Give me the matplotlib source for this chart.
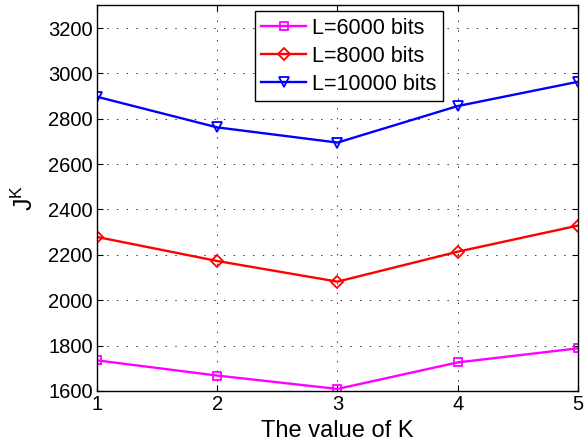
import numpy as np
import matplotlib
matplotlib.use('Agg')
import matplotlib.pyplot as plt

plt.rcParams['font.family'] = ['Liberation Sans', 'DejaVu Sans']

# values of K and the cost for each packet length
k_values = [1, 2, 3, 4, 5]
j_6000 = [1735, 1668, 1609, 1726, 1788]
j_8000 = [2279, 2173, 2082, 2214, 2329]
j_10000 = [2897, 2762, 2695, 2856, 2963]
labels = ['L=6000 bits', 'L=8000 bits', 'L=10000 bits']
y_ticks = [1600, 1800, 2000, 2200, 2400, 2600, 2800, 3000, 3200]

fig = plt.figure(figsize=(5.86, 4.43), dpi=100)
ax = fig.add_axes([0.1655, 0.1174, 0.8208, 0.8706])

ax.plot(k_values, j_6000, color='#ff00ff', marker='s', mfc='none', ms=6, mew=1.3, lw=1.7, label=labels[0])
ax.plot(k_values, j_8000, color='#ff0000', marker='D', mfc='none', ms=6, mew=1.3, lw=1.7, label=labels[1])
ax.plot(k_values, j_10000, color='#0000ff', marker='v', mfc='none', ms=7.5, mew=1.3, lw=1.7, label=labels[2])

ax.set_xlim(1, 5)
ax.set_ylim(1600, 3300)
ax.set_xticks(k_values)
ax.set_yticks(y_ticks)
ax.tick_params(direction='in', labelsize=14.5, length=4, pad=3, top=True, right=True)
# sparse dotted grid
ax.grid(True, linestyle=(0, (1.5, 8.5)), color='#333333', lw=0.7)
for s in ax.spines.values():
    s.set_linewidth(1.0)

ax.set_xlabel('The value of K', fontsize=17, labelpad=4)
ax.set_ylabel(r'$\mathregular{J^K}$', fontsize=18, labelpad=7)

leg = ax.legend(loc='upper left', bbox_to_anchor=(0.328, 0.985), fontsize=15.5,
                frameon=True, fancybox=False, edgecolor='black', framealpha=1,
                handlelength=2.1, borderpad=0.3, labelspacing=0.33, handletextpad=0.25,
                borderaxespad=0)
leg.get_frame().set_linewidth(1.0)

fig.savefig('out.png', dpi=100)
